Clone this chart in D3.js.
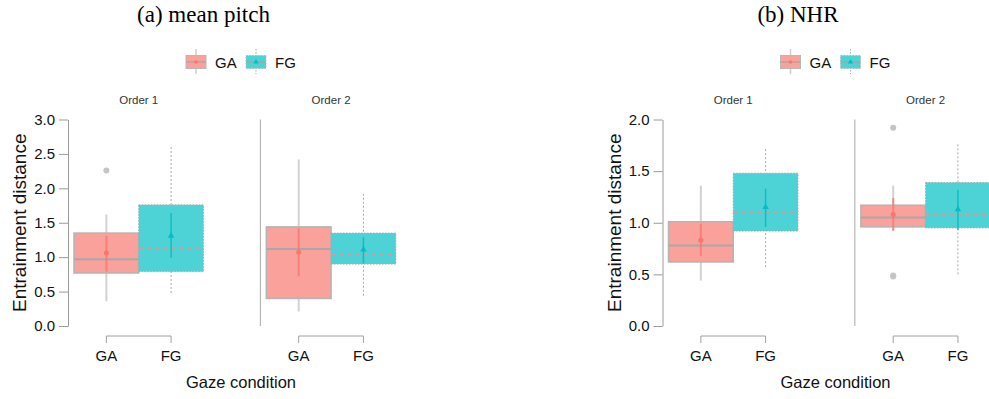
<!DOCTYPE html>
<html><head><meta charset="utf-8">
<script src="https://cdn.jsdelivr.net/npm/d3@7"></script>
<style>body{margin:0;background:#fff}svg{display:block}</style>
</head><body>
<svg id="chart" width="989" height="399"></svg>
<script>
// ---------- data ----------
const panelTitles = ["(a) mean pitch", "(b) NHR"];
const orders = ["Order 1", "Order 2"];
const conditions = ["GA", "FG"];
// box order in each array: [Order1 GA, Order1 FG, Order2 GA, Order2 FG]
const pitchWhiskerLow = [0.36, 0.48, 0.21, 0.44];
const pitchQ1         = [0.77, 0.79, 0.40, 0.90];
const pitchMedian     = [0.97, 1.12, 1.12, 1.04];
const pitchQ3         = [1.35, 1.76, 1.44, 1.35];
const pitchWhiskerHigh= [1.62, 2.60, 2.42, 1.92];
const pitchMean       = [1.06, 1.31, 1.07, 1.11];
const pitchCiLow      = [0.79, 0.99, 0.72, 0.91];
const pitchCiHigh     = [1.31, 1.64, 1.42, 1.29];
const pitchOutliers   = [[2.26], [], [], []];
const pitchTicks      = [0, 0.5, 1.0, 1.5, 2.0, 2.5, 3.0];

const nhrWhiskerLow   = [0.44, 0.57, 0.93, 0.50];
const nhrQ1           = [0.62, 0.92, 0.96, 0.95];
const nhrMedian       = [0.78, 1.10, 1.05, 1.08];
const nhrQ3           = [1.01, 1.48, 1.17, 1.39];
const nhrWhiskerHigh  = [1.36, 1.72, 1.36, 1.77];
const nhrMean         = [0.83, 1.15, 1.08, 1.13];
const nhrCiLow        = [0.68, 0.96, 0.92, 0.93];
const nhrCiHigh       = [0.99, 1.33, 1.24, 1.32];
const nhrOutliers     = [[], [], [1.92, 0.49, 0.48], []];
const nhrTicks        = [0, 0.5, 1.0, 1.5, 2.0];

const xLabel = "Gaze condition";
const yLabel = "Entrainment distance";

// ---------- style ----------
const fillCol = {GA: "#F9A19A", FG: "#4DD2D6"};
const markCol = {GA: "#F8766D", FG: "#00BFC4"};
const sans = "'Liberation Sans', Arial, sans-serif";
const serif = "'Liberation Serif', 'Times New Roman', serif";

const panels = [
  {title: panelTitles[0], ticks: pitchTicks, max: 3, wl: pitchWhiskerLow, q1: pitchQ1, med: pitchMedian, q3: pitchQ3, wh: pitchWhiskerHigh, mean: pitchMean, cil: pitchCiLow, cih: pitchCiHigh, out: pitchOutliers},
  {title: panelTitles[1], ticks: nhrTicks, max: 2, wl: nhrWhiskerLow, q1: nhrQ1, med: nhrMedian, q3: nhrQ3, wh: nhrWhiskerHigh, mean: nhrMean, cil: nhrCiLow, cih: nhrCiHigh, out: nhrOutliers}
];

const svg = d3.select("#chart");
const panelOffsets = [0, 594.5];

panels.forEach((p, pi) => {
  const g = svg.append("g").attr("transform", `translate(${panelOffsets[pi]},0)`);
  const y = d3.scaleLinear().domain([0, p.max]).range([326, 119.5]);
  const xOrder = d3.scaleBand().domain(orders).range([74, 395.8]).paddingInner(0.327).paddingOuter(0);
  const xCond = d3.scaleBand().domain(conditions).range([0, xOrder.bandwidth()]);
  const pad = 6;

  // title
  g.append("text").attr("x", 203.5).attr("y", 22).attr("text-anchor", "middle")
    .style("font-family", serif).style("font-size", "23px").attr("fill", "#000").text(p.title);

  // y axis
  const axisX = xOrder(orders[0]) - pad;
  const ax = g.append("g").attr("transform", `translate(${axisX},0)`)
    .call(d3.axisLeft(y).tickValues(p.ticks).tickFormat(d3.format(".1f")).tickSize(9).tickSizeOuter(0));
  ax.select(".domain").attr("stroke", "#9a9a9a");
  ax.selectAll(".tick line").attr("stroke", "#9a9a9a");
  ax.selectAll(".tick text").attr("x", -13).style("font-family", sans).style("font-size", "15px").attr("fill", "#111");

  // separator (facet 2 left line)
  orders.slice(1).forEach(o => {
    g.append("line").attr("x1", xOrder(o) - pad).attr("x2", xOrder(o) - pad)
      .attr("y1", y(p.max)).attr("y2", y(0)).attr("stroke", "#a8a8a8").attr("stroke-width", 1);
  });

  // y label
  g.append("text").attr("transform", `translate(26,${(y(0) + y(p.max)) / 2}) rotate(-90)`)
    .attr("text-anchor", "middle").style("font-family", sans).style("font-size", "19px").attr("fill", "#111").text(yLabel);

  // legend
  const legItems = [{c: "GA", kx: 186, tx: 215}, {c: "FG", kx: 246, tx: 275}];
  legItems.forEach(li => {
    const lg = g.append("g");
    const cx = li.kx + 10;
    lg.append("line").attr("x1", cx).attr("x2", cx).attr("y1", 49).attr("y2", 74)
      .attr("stroke", li.c === "GA" ? "#cfcfcf" : "#aaaaaa").attr("stroke-width", li.c === "GA" ? 1.5 : 1)
      .attr("stroke-dasharray", li.c === "GA" ? null : "1.5,1.5");
    lg.append("rect").attr("x", li.kx).attr("y", 55.5).attr("width", 20).attr("height", 13)
      .attr("fill", fillCol[li.c]).attr("stroke", "#b8b8b8").attr("stroke-width", 1)
      .attr("stroke-dasharray", li.c === "GA" ? null : "1.5,1.5");
    lg.append("line").attr("x1", li.kx).attr("x2", li.kx + 20).attr("y1", 62).attr("y2", 62)
      .attr("stroke", "#b0a0a0").attr("stroke-width", 1.2);
    if (li.c === "GA") lg.append("circle").attr("cx", cx).attr("cy", 62).attr("r", 1.8).attr("fill", markCol.GA);
    else lg.append("path").attr("d", d3.symbol(d3.symbolTriangle, 12)()).attr("transform", `translate(${cx},62)`).attr("fill", markCol.FG);
    lg.append("text").attr("x", li.tx).attr("y", 67.5).style("font-family", sans).style("font-size", "15px").attr("fill", "#111").text(li.c);
  });

  // facets
  orders.forEach((o, oi) => {
    const fx = xOrder(o);
    g.append("text").attr("x", fx + xOrder.bandwidth() / 2).attr("y", 103.5).attr("text-anchor", "middle")
      .style("font-family", sans).style("font-size", "11.5px").attr("fill", "#333").text(o);

    // bracket axis
    const c0 = fx + xCond(conditions[0]) + xCond.bandwidth() / 2;
    const c1 = fx + xCond(conditions[1]) + xCond.bandwidth() / 2;
    g.append("path").attr("d", `M${c0},343V336H${c1}V343`).attr("fill", "none").attr("stroke", "#a0a0a0").attr("stroke-width", 1);
    conditions.forEach(c => {
      const cx = fx + xCond(c) + xCond.bandwidth() / 2;
      g.append("text").attr("x", cx).attr("y", 361).attr("text-anchor", "middle")
        .style("font-family", sans).style("font-size", "15px").attr("fill", "#111").text(c);
    });

    conditions.forEach((c, ci) => {
      const i = oi * 2 + ci;
      const x0 = fx + xCond(c);
      const w = xCond.bandwidth();
      const cx = x0 + w / 2;
      const isGA = c === "GA";
      // whisker
      g.append("line").attr("x1", cx).attr("x2", cx).attr("y1", y(p.wl[i])).attr("y2", y(p.wh[i]))
        .attr("stroke", isGA ? "#d2d2d2" : "#a8a8a8").attr("stroke-width", isGA ? 2 : 1)
        .attr("stroke-dasharray", isGA ? null : "2,2");
      // box
      g.append("rect").attr("x", x0).attr("y", y(p.q3[i])).attr("width", w).attr("height", y(p.q1[i]) - y(p.q3[i]))
        .attr("fill", fillCol[c]).attr("stroke", isGA ? "#b4b4b4" : "#a8a8a8").attr("stroke-width", isGA ? 1.5 : 1)
        .attr("stroke-dasharray", isGA ? null : "1.5,1.5");
      // median
      g.append("line").attr("x1", x0).attr("x2", x0 + w).attr("y1", y(p.med[i])).attr("y2", y(p.med[i]))
        .attr("stroke", isGA ? "#a8a8a8" : "#c0a4a4").attr("stroke-width", 2)
        .attr("stroke-dasharray", isGA ? null : "5,3");
      // outliers
      p.out[i].forEach(v => {
        g.append("circle").attr("cx", cx).attr("cy", y(v)).attr("r", 3).attr("fill", "#c4c4c4");
      });
      // mean + CI
      g.append("line").attr("x1", cx).attr("x2", cx).attr("y1", y(p.cil[i])).attr("y2", y(p.cih[i]))
        .attr("stroke", markCol[c]).attr("stroke-opacity", isGA ? 0.75 : 0.9).attr("stroke-width", isGA ? 2 : 1.5);
      if (isGA) g.append("circle").attr("cx", cx).attr("cy", y(p.mean[i])).attr("r", 2.5).attr("fill", markCol.GA);
      else g.append("path").attr("d", d3.symbol(d3.symbolTriangle, 18)()).attr("transform", `translate(${cx},${y(p.mean[i])})`).attr("fill", markCol.FG);
    });
  });

  // x label
  g.append("text").attr("x", 241).attr("y", 388).attr("text-anchor", "middle")
    .style("font-family", sans).style("font-size", "16.5px").attr("fill", "#111").text(xLabel);
});
</script>
</body></html>
